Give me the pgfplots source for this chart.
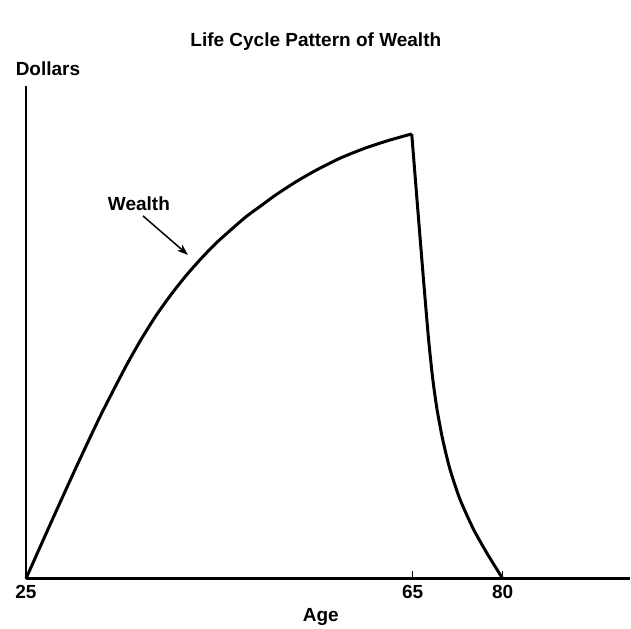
\documentclass[border=0pt]{standalone}
\usepackage{fontspec}
\setmainfont{Liberation Sans}
\usepackage{pgfplots}
\pgfplotsset{compat=1.18}
\usetikzlibrary{arrows.meta}
\begin{document}
\begin{tikzpicture}
\begin{axis}[
  scale only axis, width=604pt, height=493pt,
  xmin=0, xmax=604, ymin=0, ymax=493,
  axis x line=bottom, axis y line=left,
  axis line style={-, line width=2.8pt},
  xtick={0,387,477}, xticklabels={25,65,80},
  ytick=\empty,
  tick align=inside, major tick length=8pt,
  tick style={line width=1.4pt, black},
  xticklabel style={font=\fontsize{19}{22}\selectfont\bfseries, yshift=-3pt},
  clip=false,
]
\addplot[line width=3pt, smooth, tension=0.4] coordinates {
(0,0) (25,56) (50,111) (75,164) (100,212.5) (115,239) (130,263) (145,284) (160,303) (175,320) (190,335.5) (205,349) (220,362) (235,373) (250,384) (270,397) (290,408.5) (315,421) (340,431) (363,438.5) (386,445)};
\addplot[line width=3pt, smooth, tension=0.4] coordinates {
(386,445) (392,370) (397.7,300) (402.8,240) (407,200) (411.2,170) (416.8,140) (424.1,110) (434,80) (447.5,50) (461.5,25) (477,0)};
\node[font=\fontsize{19}{22}\selectfont\bfseries] at (axis cs:290,537) {Life Cycle Pattern of Wealth};
\node[font=\fontsize{19}{22}\selectfont\bfseries] at (axis cs:22,510) {Dollars};
\node[font=\fontsize{19}{22}\selectfont\bfseries] at (axis cs:113,375) {Wealth};
\node[font=\fontsize{19}{22}\selectfont\bfseries] at (axis cs:295,-38) {Age};
\draw[-{Stealth[length=11pt,width=8pt]}, line width=1.5pt] (axis cs:117,363) -- (axis cs:162,324);
\path (axis cs:-26,-46) rectangle (axis cs:605,579);
\end{axis}
\end{tikzpicture}
\end{document}
